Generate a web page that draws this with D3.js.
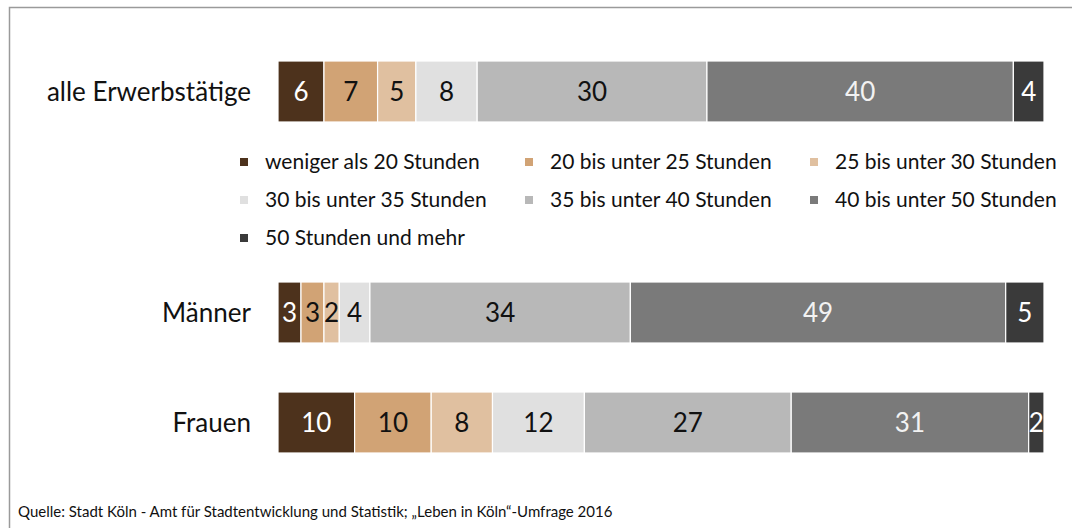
<!DOCTYPE html>
<html>
<head>
<meta charset="utf-8">
<script src="https://cdn.jsdelivr.net/npm/d3@7"></script>
<style>
  html, body { margin: 0; padding: 0; background: #fff; overflow: hidden; }
  svg { display: block; }
  svg text { font-family: Lato, "Open Sans", sans-serif; }
</style>
</head>
<body>
<div id="chart"></div>
<script>
var width = 1072;
var height = 528;

// data
var groups = ["alle Erwerbstätige", "Männer", "Frauen"];
var categories = [
    "weniger als 20 Stunden",
    "20 bis unter 25 Stunden",
    "25 bis unter 30 Stunden",
    "30 bis unter 35 Stunden",
    "35 bis unter 40 Stunden",
    "40 bis unter 50 Stunden",
    "50 Stunden und mehr"
];
var allValues = [6, 7, 5, 8, 30, 40, 4];
var maennerValues = [3, 3, 2, 4, 34, 49, 5];
var frauenValues = [10, 10, 8, 12, 27, 31, 2];
var colors = ["#4d321c", "#d1a375", "#e0c0a0", "#e0e0e0", "#b8b8b8", "#7a7a7a", "#3a3a3a"];
var labelColors = ["#fff", "#111", "#111", "#111", "#111", "#f2f2f2", "#fff"];
var source = "Quelle: Stadt Köln - Amt für Stadtentwicklung und Statistik; „Leben in Köln“-Umfrage 2016";

var seriesByGroup = [allValues, maennerValues, frauenValues];

var svg = d3.select("#chart")
            .append("svg")
            .attr("width", width)
            .attr("height", height);

// frame (right and bottom edges run off the picture)
svg.append("rect")
    .attr("x", 9.5)
    .attr("y", 7.5)
    .attr("width", width + 20)
    .attr("height", height + 20)
    .attr("fill", "none")
    .attr("stroke", "#9a9a9a")
    .attr("stroke-width", 1.5);

var x = d3.scaleLinear().domain([0, 100]).range([278, 1044]);
var y = d3.scaleOrdinal().domain(groups).range([61, 282, 392]);
var barHeight = 61;
var color = d3.scaleOrdinal().domain(categories).range(colors);

// stack the values per group
var rows = groups.map(function(g, i) {
    var acc = 0;
    return {
        group: g,
        segs: seriesByGroup[i].map(function(v, j) {
            var s = { cat: categories[j], idx: j, v: v, x0: acc, x1: acc + v };
            acc += v;
            return s;
        })
    };
});

var rowG = svg.selectAll(".row")
    .data(rows)
    .enter()
    .append("g")
    .attr("class", "row")
    .attr("transform", d => "translate(0," + y(d.group) + ")");

rowG.append("text")
    .text(d => d.group)
    .attr("x", 251)
    .attr("y", barHeight / 2)
    .attr("dy", "0.35em")
    .attr("text-anchor", "end")
    .style("font-size", "26px")
    .attr("fill", "#111");

var seg = rowG.selectAll(".seg")
    .data(d => d.segs)
    .enter()
    .append("g")
    .attr("class", "seg");

seg.append("rect")
    .attr("x", d => x(d.x0))
    .attr("y", 0)
    .attr("width", d => x(d.x1) - x(d.x0))
    .attr("height", barHeight)
    .attr("fill", d => color(d.cat))
    .attr("stroke", "#fff")
    .attr("stroke-width", 1.2);

seg.append("text")
    .text(d => d.v)
    .attr("x", d => (x(d.x0) + x(d.x1)) / 2)
    .attr("y", barHeight / 2)
    .attr("dy", "0.35em")
    .attr("text-anchor", "middle")
    .style("font-size", "26px")
    .attr("fill", d => labelColors[d.idx]);

// legend
var legendX = [240, 525, 810];
var legendY = [162, 200, 238];
var legend = svg.selectAll(".legend")
    .data(categories)
    .enter()
    .append("g")
    .attr("class", "legend")
    .attr("transform", (d, i) => "translate(" + legendX[i % 3] + "," + legendY[Math.floor(i / 3)] + ")");

legend.append("rect")
    .attr("x", 0)
    .attr("y", -4)
    .attr("width", 8)
    .attr("height", 8)
    .attr("fill", d => color(d));

legend.append("text")
    .text(d => d)
    .attr("x", 25)
    .attr("y", 0)
    .attr("dy", "0.35em")
    .style("font-size", "21px")
    .attr("fill", "#111");

svg.append("text")
    .text(source)
    .attr("x", 18)
    .attr("y", 517)
    .style("font-size", "15px")
    .attr("fill", "#111");
</script>
</body>
</html>
